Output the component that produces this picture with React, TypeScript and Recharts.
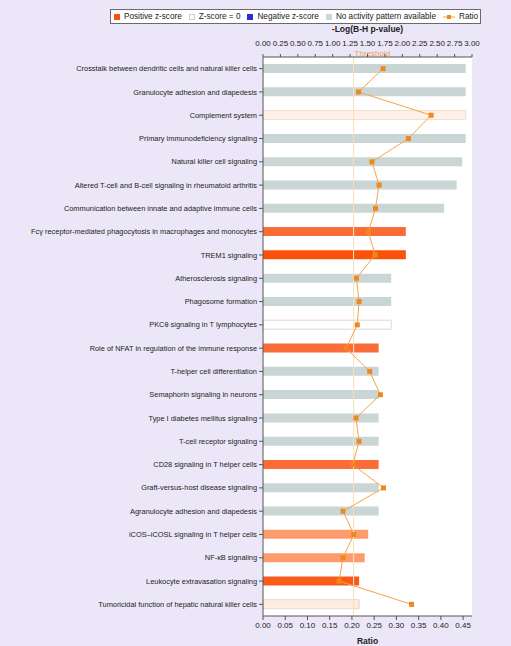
import React from "react";
import {
  ComposedChart,
  Bar,
  Line,
  XAxis,
  YAxis,
  Cell,
  CartesianGrid,
  ReferenceLine,
} from "recharts";

// pathway names, top to bottom
const categories = [
  "Crosstalk between dendritic cells and natural killer cells",
  "Granulocyte adhesion and diapedesis",
  "Complement system",
  "Primary immunodeficiency signaling",
  "Natural killer cell signaling",
  "Altered T-cell and B-cell signaling in rheumatoid arthritis",
  "Communication between innate and adaptive immune cells",
  "Fcγ receptor-mediated phagocytosis in macrophages and monocytes",
  "TREM1 signaling",
  "Atherosclerosis signaling",
  "Phagosome formation",
  "PKCθ signaling in T lymphocytes",
  "Role of NFAT in regulation of the immune response",
  "T-helper cell differentiation",
  "Semaphorin signaling in neurons",
  "Type I diabetes mellitus signaling",
  "T-cell receptor signaling",
  "CD28 signaling in T helper cells",
  "Graft-versus-host disease signaling",
  "Agranulocyte adhesion and diapedesis",
  "iCOS–iCOSL signaling in T helper cells",
  "NF-κB signaling",
  "Leukocyte extravasation signaling",
  "Tumoricidal function of hepatic natural killer cells",
];

// -log(B-H p-value)
const negLogP = [
  2.91, 2.91, 2.91, 2.91, 2.86, 2.78, 2.6, 2.05, 2.05, 1.84, 1.84, 1.84,
  1.66, 1.66, 1.66, 1.66, 1.66, 1.66, 1.66, 1.66, 1.51, 1.46, 1.38, 1.38,
];

const ratios = [
  0.27, 0.215, 0.378, 0.327, 0.245, 0.261, 0.253, 0.237, 0.252, 0.21, 0.216,
  0.212, 0.187, 0.24, 0.264, 0.209, 0.216, 0.202, 0.271, 0.18, 0.204, 0.18,
  0.171, 0.334,
];

// z-score colouring of each bar
const GRAY = "#cad5d5";
const barFills = [
  GRAY, GRAY, "#fdf1ea", GRAY, GRAY, GRAY, GRAY, "#fb6c36", "#fb5209",
  GRAY, GRAY, "#ffffff", "#fb6d38", GRAY, GRAY, GRAY, GRAY, "#fb6c36",
  GRAY, GRAY, "#fc9b6b", "#fc9c6c", "#fb5b18", "#fdece1",
];
const barStrokes = [
  "none", "none", "#f3dccd", "none", "none", "none", "none", "none", "none",
  "none", "none", "#d6dcdc", "none", "none", "none", "none", "none", "none",
  "none", "none", "none", "none", "none", "#ead6c8",
];

const pTicks = [0, 0.25, 0.5, 0.75, 1, 1.25, 1.5, 1.75, 2, 2.25, 2.5, 2.75, 3];
const ratioTicks = [0, 0.05, 0.1, 0.15, 0.2, 0.25, 0.3, 0.35, 0.4, 0.45];

const THRESHOLD = 1.3;

const data = categories.map((name, i) => ({
  name,
  p: negLogP[i],
  ratio: ratios[i],
}));

const FONT = "'Liberation Sans', Arial, sans-serif";

const SquareDot = (props: any) => {
  const { cx, cy } = props;
  if (cx == null || cy == null) return null;
  return <rect x={cx - 2.5} y={cy - 2.5} width={5} height={5} fill="#f0891c" />;
};

// single-line category label (no wrapping)
const CategoryTick = (props: any) => {
  const { x, y, payload } = props;
  return (
    <text
      x={x}
      y={y}
      dy="0.35em"
      textAnchor="end"
      fontSize={7.4}
      fill="#222"
      fontFamily={FONT}
    >
      {payload.value}
    </text>
  );
};

const Swatch = ({ fill, stroke }: { fill: string; stroke?: string }) => (
  <span
    style={{
      display: "inline-block",
      width: 6,
      height: 6,
      background: fill,
      border: stroke ? `1px solid ${stroke}` : "none",
      boxSizing: "border-box",
      marginRight: 4,
    }}
  />
);

const LegendBox = () => {
  const item = { display: "flex", alignItems: "center", marginRight: 7 };
  return (
    <div
      style={{
        position: "absolute",
        left: 110,
        top: 9,
        width: 366,
        height: 13,
        border: "1px solid #6a6a6a",
        background: "#ffffff",
        display: "flex",
        alignItems: "center",
        paddingLeft: 3,
        fontFamily: FONT,
        fontSize: 8.2,
        color: "#222",
        whiteSpace: "nowrap",
      }}
    >
      <span style={item}>
        <Swatch fill="#fb5209" />
        Positive z-score
      </span>
      <span style={item}>
        <Swatch fill="#ffffff" stroke="#d0d0d0" />
        Z-score = 0
      </span>
      <span style={item}>
        <Swatch fill="#2b2bd8" />
        Negative z-score
      </span>
      <span style={item}>
        <Swatch fill={GRAY} />
        No activity pattern available
      </span>
      <span style={{ display: "flex", alignItems: "center" }}>
        <svg width={12} height={6} style={{ marginRight: 4 }}>
          <line x1={0} y1={3} x2={12} y2={3} stroke="#f0a040" strokeWidth={1} />
          <rect x={4} y={1} width={4} height={4} fill="#f0891c" />
        </svg>
        Ratio
      </span>
    </div>
  );
};

const ThresholdLabel = (props: any) => {
  const { viewBox } = props;
  return (
    <text
      x={viewBox.x + 1}
      y={viewBox.y - 1}
      fill="#f0a050"
      fontSize={8}
      fontFamily={FONT}
    >
      Threshold
    </text>
  );
};

export default function App() {
  return (
    <div
      style={{
        position: "absolute",
        left: 0,
        top: 0,
        width: 511,
        height: 646,
        background: "#ebe7f8",
      }}
    >
      <LegendBox />
      <ComposedChart
        width={511}
        height={646}
        data={data}
        layout="vertical"
        margin={{ top: 12, right: 39, bottom: 0, left: 0 }}
        barSize={9}
      >
        <CartesianGrid
          fill="#ffffff"
          horizontal={false}
          vertical={false}
          xAxisId="p"
        />
        <XAxis
          xAxisId="p"
          type="number"
          orientation="top"
          domain={[0, 3]}
          ticks={pTicks}
          interval={0}
          height={45}
          tickSize={3}
          tickMargin={8}
          tickFormatter={(v: number) => v.toFixed(2)}
          tick={{ fontSize: 8, fill: "#222", fontFamily: FONT }}
          stroke="#555"
          label={{
            value: "-Log(B-H p-value)",
            position: "insideTop",
            offset: 14,
            fontSize: 8.5,
            fontWeight: "bold",
            fill: "#222",
            fontFamily: FONT,
          }}
        />
        <XAxis
          xAxisId="r"
          type="number"
          orientation="bottom"
          domain={[0, 0.47]}
          ticks={ratioTicks}
          interval={0}
          height={30}
          tickSize={4}
          tickMargin={2}
          tickFormatter={(v: number) => v.toFixed(2)}
          tick={{ fontSize: 8, fill: "#222", fontFamily: FONT }}
          stroke="#555"
          label={{
            value: "Ratio",
            position: "insideBottom",
            offset: 2,
            fontSize: 8.5,
            fontWeight: "bold",
            fill: "#222",
            fontFamily: FONT,
          }}
        />
        <YAxis
          type="category"
          dataKey="name"
          width={263}
          interval={0}
          tickSize={4}
          tickMargin={2}
          tick={<CategoryTick />}
          stroke="#555"
        />
        <ReferenceLine
          xAxisId="p"
          x={THRESHOLD}
          stroke="#f8dcb2"
          strokeWidth={1}
          label={<ThresholdLabel />}
        />
        <Bar xAxisId="p" dataKey="p" isAnimationActive={false}>
          {data.map((_, i) => (
            <Cell
              key={`cell-${i}`}
              fill={barFills[i]}
              stroke={barStrokes[i]}
              strokeWidth={1}
            />
          ))}
        </Bar>
        <ReferenceLine
          xAxisId="p"
          x={THRESHOLD}
          stroke="#fbe6cc"
          strokeOpacity={0.5}
          strokeWidth={1}
        />
        <Line
          xAxisId="r"
          dataKey="ratio"
          stroke="#f2a54a"
          strokeWidth={1}
          dot={<SquareDot />}
          activeDot={false}
          isAnimationActive={false}
        />
      </ComposedChart>
    </div>
  );
}
